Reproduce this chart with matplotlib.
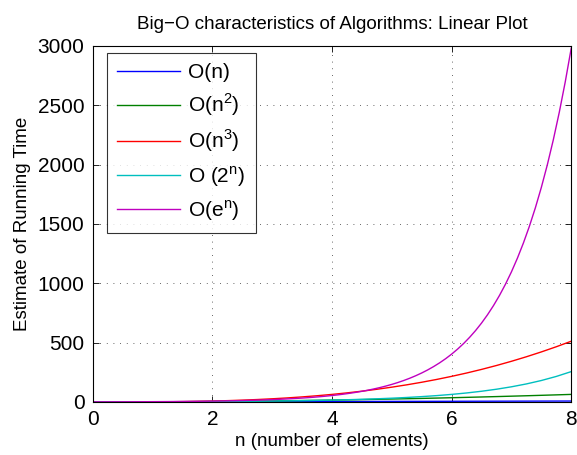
import matplotlib.pyplot as plt

plt.rcParams['font.family'] = ['Liberation Sans', 'DejaVu Sans']
plt.rcParams['mathtext.fontset'] = 'custom'
plt.rcParams['mathtext.rm'] = 'Liberation Sans'

# input size
n = [0, 0.25, 0.5, 0.75, 1, 1.25, 1.5, 1.75, 2, 2.25, 2.5, 2.75, 3, 3.25, 3.5, 3.75,
     4, 4.25, 4.5, 4.75, 5, 5.25, 5.5, 5.75, 6, 6.25, 6.5, 6.75, 7, 7.25, 7.5, 7.75, 8]

# estimated running times
o_n = [0, 0.25, 0.5, 0.75, 1, 1.25, 1.5, 1.75, 2, 2.25, 2.5, 2.75, 3, 3.25, 3.5, 3.75,
       4, 4.25, 4.5, 4.75, 5, 5.25, 5.5, 5.75, 6, 6.25, 6.5, 6.75, 7, 7.25, 7.5, 7.75, 8]
o_n2 = [0, 0.06, 0.25, 0.56, 1, 1.56, 2.25, 3.06, 4, 5.06, 6.25, 7.56, 9, 10.56, 12.25, 14.06,
        16, 18.06, 20.25, 22.56, 25, 27.56, 30.25, 33.06, 36, 39.06, 42.25, 45.56, 49, 52.56,
        56.25, 60.06, 64]
o_n3 = [0, 0.02, 0.13, 0.42, 1, 1.95, 3.38, 5.36, 8, 11.4, 15.6, 20.8, 27, 34.3, 42.9, 52.7,
        64, 76.8, 91.1, 107.2, 125, 144.7, 166.4, 190.1, 216, 244.1, 274.6, 307.5, 343, 381.1,
        421.9, 465.5, 512]
o_2n = [1, 1.19, 1.41, 1.68, 2, 2.38, 2.83, 3.36, 4, 4.76, 5.66, 6.73, 8, 9.51, 11.3, 13.5,
        16, 19.0, 22.6, 26.9, 32, 38.1, 45.3, 53.8, 64, 76.1, 90.5, 107.6, 128, 152.2,
        181.0, 215.3, 256]

# the exponential curve is read at a finer step
n_fine = [0, 0.1, 0.2, 0.3, 0.4, 0.5, 0.6, 0.7, 0.8, 0.9, 1, 1.1, 1.2, 1.3, 1.4, 1.5, 1.6,
          1.7, 1.8, 1.9, 2, 2.1, 2.2, 2.3, 2.4, 2.5, 2.6, 2.7, 2.8, 2.9, 3, 3.1, 3.2, 3.3,
          3.4, 3.5, 3.6, 3.7, 3.8, 3.9, 4, 4.1, 4.2, 4.3, 4.4, 4.5, 4.6, 4.7, 4.8, 4.9, 5,
          5.1, 5.2, 5.3, 5.4, 5.5, 5.6, 5.7, 5.8, 5.9, 6, 6.1, 6.2, 6.3, 6.4, 6.5, 6.6, 6.7,
          6.8, 6.9, 7, 7.1, 7.2, 7.3, 7.4, 7.5, 7.6, 7.7, 7.8, 7.9, 8]
o_en = [1.00, 1.11, 1.22, 1.35, 1.49, 1.65, 1.82, 2.01, 2.23, 2.46, 2.72, 3.00, 3.32, 3.67,
        4.06, 4.48, 4.95, 5.47, 6.05, 6.69, 7.39, 8.17, 9.03, 9.97, 11.0, 12.2, 13.5, 14.9,
        16.4, 18.2, 20.1, 22.2, 24.5, 27.1, 30.0, 33.1, 36.6, 40.4, 44.7, 49.4, 54.6, 60.3,
        66.7, 73.7, 81.5, 90.0, 99.5, 110.0, 121.5, 134.3, 148.4, 164.0, 181.3, 200.3, 221.4,
        244.7, 270.4, 298.9, 330.3, 365.0, 403.4, 445.9, 492.7, 544.6, 601.8, 665.1, 735.1,
        812.4, 897.8, 992.3, 1096.6, 1212.0, 1339.4, 1480.3, 1636.0, 1808.0, 1998.2, 2208.3,
        2440.6, 2697.3, 2981.0]

fig = plt.figure(figsize=(5.77, 4.55), dpi=100)
ax = fig.add_axes([0.161, 0.1165, 0.829, 0.7825])

ax.plot(n, o_n, color=(0, 0, 1), lw=1.0, label='O(n)')
ax.plot(n, o_n2, color=(0, 0.5, 0), lw=1.0, label='O(n$^\\mathregular{2}$)')
ax.plot(n, o_n3, color=(1, 0, 0), lw=1.0, label='O(n$^\\mathregular{3}$)')
ax.plot(n, o_2n, color=(0, 0.75, 0.75), lw=1.0, label='O (2$^\\mathregular{n}$)')
ax.plot(n_fine, o_en, color=(0.75, 0, 0.75), lw=1.0, label='O(e$^\\mathregular{n}$)')

ax.set_xlim(0, 8)
ax.set_ylim(0, 3000)
ax.set_xticks([0, 2, 4, 6, 8])
ax.set_yticks([0, 500, 1000, 1500, 2000, 2500, 3000])
ax.tick_params(direction='in', top=True, right=True, length=4.5, width=0.6,
               labelsize=15, pad=6)
ax.grid(True, color='#333333', linestyle=(0, (1, 7)), linewidth=0.6)
for s in ax.spines.values():
    s.set_linewidth(0.8)

ax.set_title('Big\u2212O characteristics of Algorithms: Linear Plot', fontsize=13.5, pad=12)
ax.set_xlabel('n (number of elements)', fontsize=13.5, labelpad=3)
ax.set_ylabel('Estimate of Running Time', fontsize=13.5, labelpad=5)

leg = ax.legend(loc='upper left', bbox_to_anchor=(0.029, 0.98), borderaxespad=0,
                fontsize=15, frameon=True, fancybox=False, handlelength=3.0,
                handletextpad=0.4, labelspacing=0.45, borderpad=0.5)
leg.get_frame().set_edgecolor('black')
leg.get_frame().set_linewidth(0.8)

plt.savefig('out.png', dpi=100)
